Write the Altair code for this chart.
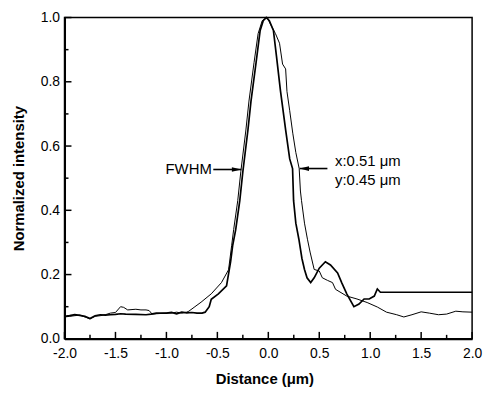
import altair as alt
import pandas as pd

# Curve A (late rise, dip/bump on the right, flat tail)
A_X = [-2.0, -1.95, -1.9, -1.85, -1.8, -1.75, -1.7, -1.65, -1.6, -1.55, -1.5, -1.45, -1.4, -1.3,
       -1.2, -1.15, -1.1, -1.0, -0.95, -0.9, -0.85, -0.8, -0.75, -0.7, -0.65, -0.62, -0.58, -0.56,
       -0.49, -0.41, -0.37, -0.35, -0.32, -0.28, -0.25, -0.2, -0.17, -0.12, -0.08, -0.05, -0.02,
       0.01, 0.05, 0.08, 0.12, 0.17, 0.21, 0.238, 0.248, 0.27, 0.30, 0.33, 0.355, 0.38, 0.416,
       0.45, 0.5, 0.56, 0.61, 0.68, 0.72, 0.77, 0.84, 0.89, 0.94, 0.99, 1.04, 1.07, 1.1, 1.5, 2.0]
A_Y = [0.070, 0.072, 0.075, 0.073, 0.070, 0.063, 0.072, 0.075, 0.074, 0.075, 0.076, 0.078, 0.077, 0.076,
       0.075, 0.077, 0.080, 0.080, 0.082, 0.078, 0.083, 0.081, 0.082, 0.080, 0.080, 0.083, 0.100, 0.123,
       0.140, 0.165, 0.240, 0.290, 0.340, 0.430, 0.520, 0.650, 0.740, 0.860, 0.960, 0.990, 1.000,
       0.990, 0.960, 0.880, 0.770, 0.650, 0.560, 0.530, 0.430, 0.360, 0.310, 0.250, 0.216, 0.190, 0.175,
       0.190, 0.220, 0.240, 0.230, 0.205, 0.175, 0.140, 0.100, 0.108, 0.124, 0.124, 0.133, 0.155, 0.145, 0.145, 0.145]

# Curve B (earlier rise, shoulder on the right, decaying tail)
B_X = [-2.0, -1.95, -1.9, -1.85, -1.8, -1.75, -1.7, -1.65, -1.6, -1.55, -1.5, -1.45, -1.42, -1.38,
       -1.3, -1.25, -1.2, -1.17, -1.14, -1.1, -1.0, -0.95, -0.9, -0.85, -0.8, -0.78, -0.72, -0.66,
       -0.56, -0.46, -0.39, -0.36, -0.34, -0.3, -0.27, -0.22, -0.19, -0.14, -0.1, -0.06, -0.01,
       0.02, 0.07, 0.11, 0.14, 0.17, 0.183, 0.21, 0.24, 0.27, 0.303, 0.315, 0.326, 0.355, 0.384,
       0.41, 0.45, 0.5, 0.53, 0.58, 0.63, 0.66, 0.77, 0.87, 0.97, 1.07, 1.16, 1.26, 1.33, 1.41,
       1.5, 1.58, 1.67, 1.75, 1.84, 1.91, 2.0]
B_Y = [0.068, 0.070, 0.072, 0.074, 0.068, 0.062, 0.070, 0.072, 0.075, 0.080, 0.082, 0.100, 0.098, 0.090,
       0.092, 0.090, 0.090, 0.088, 0.077, 0.078, 0.080, 0.080, 0.083, 0.080, 0.083, 0.086, 0.100, 0.114,
       0.140, 0.175, 0.215, 0.290, 0.340, 0.430, 0.520, 0.650, 0.740, 0.860, 0.950, 0.990, 1.000,
       0.980, 0.950, 0.920, 0.855, 0.840, 0.770, 0.710, 0.640, 0.580, 0.530, 0.460, 0.430, 0.360, 0.310,
       0.270, 0.216, 0.211, 0.190, 0.182, 0.175, 0.154, 0.133, 0.124, 0.113, 0.099, 0.083, 0.075, 0.068, 0.075,
       0.084, 0.080, 0.075, 0.077, 0.086, 0.084, 0.083]

X_MAJOR = [-2.0, -1.5, -1.0, -0.5, 0.0, 0.5, 1.0, 1.5, 2.0]
X_MINOR = [-1.75, -1.25, -0.75, -0.25, 0.25, 0.75, 1.25, 1.75]
Y_MAJOR = [0.0, 0.2, 0.4, 0.6, 0.8, 1.0]
Y_MINOR = [0.1, 0.3, 0.5, 0.7, 0.9]

# Annotations
ARROW_X = [-0.54, 0.58]
ARROW_TIP = [-0.265, 0.307]
ARROW_Y = [0.527, 0.53]
TEXT_LABELS = ["FWHM", "x:0.51 \u03bcm", "y:0.45 \u03bcm"]
TEXT_X = [-0.555, 0.655, 0.655]
TEXT_Y = [0.527, 0.553, 0.494]
TEXT_ALIGN = ["right", "left", "left"]

W, H = 411, 324
FONT = "Liberation Sans"

xs = alt.Scale(domain=[-2, 2], nice=False, zero=False)
ys = alt.Scale(domain=[0, 1], nice=False, zero=False)

dfA = pd.DataFrame({"x": A_X, "y": A_Y, "o": range(len(A_X))})
dfB = pd.DataFrame({"x": B_X, "y": B_Y, "o": range(len(B_X))})

neg = "(datum.value < 0 ? '-' : '') + format(abs(datum.value), '.1f')"

base_x = alt.X("x:Q", scale=xs, axis=alt.Axis(
    values=X_MAJOR, labelExpr=neg, title="Distance (\u03bcm)", ticks=False, tickSize=0,
    labelFlush=False, labelOverlap=False,
    labelPadding=8, titleX=W / 2 - 4, titleY=40, titleBaseline="middle", titleAlign="center"))
base_y = alt.Y("y:Q", scale=ys, axis=alt.Axis(
    values=Y_MAJOR, format=".1f", title="Normalized intensity", ticks=False, tickSize=0,
    labelFlush=False, labelOverlap=False,
    labelPadding=5, titleX=-46, titleY=H / 2, titleAngle=270, titleBaseline="middle",
    titleAlign="center"))

lineA = alt.Chart(dfA).mark_line(color="black", strokeWidth=1.7).encode(
    x=base_x, y=base_y, order="o:Q")
lineB = alt.Chart(dfB).mark_line(color="black", strokeWidth=1.0).encode(
    x=alt.X("x:Q", scale=xs), y=alt.Y("y:Q", scale=ys), order="o:Q")

def xticks(vals, ln):
    return alt.Chart(pd.DataFrame({"x": vals})).mark_rule(color="black", strokeWidth=1.5).encode(
        x=alt.X("x:Q", scale=xs), y=alt.value(H), y2=alt.value(H - ln))

def yticks(vals, ln):
    return alt.Chart(pd.DataFrame({"y": vals})).mark_rule(color="black", strokeWidth=1.5).encode(
        y=alt.Y("y:Q", scale=ys), x=alt.value(0), x2=alt.value(ln))

arrows_df = pd.DataFrame({"x": ARROW_X, "x2": ARROW_TIP, "y": ARROW_Y})
arrow_lines = alt.Chart(arrows_df).mark_rule(color="black", strokeWidth=1.6).encode(
    x=alt.X("x:Q", scale=xs), x2="x2:Q", y=alt.Y("y:Q", scale=ys))
head_r = alt.Chart(arrows_df.iloc[[0]]).mark_point(
    shape="M-2,-0.5L0,0L-2,0.5Z", filled=True, color="black", size=90, opacity=1).encode(
    x=alt.X("x2:Q", scale=xs), y=alt.Y("y:Q", scale=ys))
head_l = alt.Chart(arrows_df.iloc[[1]]).mark_point(
    shape="M2,-0.5L0,0L2,0.5Z", filled=True, color="black", size=90, opacity=1).encode(
    x=alt.X("x2:Q", scale=xs), y=alt.Y("y:Q", scale=ys))

texts_df = pd.DataFrame({"x": TEXT_X, "y": TEXT_Y, "t": TEXT_LABELS, "a": TEXT_ALIGN})
text_r = alt.Chart(texts_df[texts_df.a == "right"]).mark_text(
    align="right", baseline="middle", fontSize=15, font=FONT, color="black").encode(
    x=alt.X("x:Q", scale=xs), y=alt.Y("y:Q", scale=ys), text="t:N")
text_l = alt.Chart(texts_df[texts_df.a == "left"]).mark_text(
    align="left", baseline="middle", fontSize=15, font=FONT, color="black").encode(
    x=alt.X("x:Q", scale=xs), y=alt.Y("y:Q", scale=ys), text="t:N")

chart = alt.layer(
    lineA, lineB,
    xticks(X_MAJOR, 7), xticks(X_MINOR, 4), yticks(Y_MAJOR, 7), yticks(Y_MINOR, 4),
    arrow_lines, head_r, head_l, text_r, text_l,
).properties(
    width=W, height=H,
    autosize=alt.AutoSizeParams(type="none"),
    padding={"left": 57, "top": 8, "right": 12, "bottom": 50},
).configure_view(
    stroke="black", strokeWidth=1.5
).configure_axis(
    grid=False, domainColor="black", domainWidth=2, labelColor="black", titleColor="black",
    labelFont=FONT, titleFont=FONT, labelFontSize=14, titleFontSize=15, titleFontWeight="bold",
)

chart.save("out.html", embed_options={"renderer": "svg", "actions": False})
